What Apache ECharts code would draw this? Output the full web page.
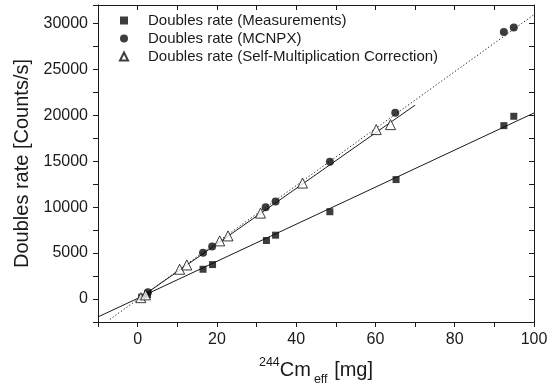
<!DOCTYPE html>
<html>
<head>
<meta charset="utf-8">
<script src="https://cdn.jsdelivr.net/npm/echarts@6/dist/echarts.min.js"></script>
<style>
html,body{margin:0;padding:0;background:#fff;}
#chart{width:555px;height:387px;}
</style>
</head>
<body>
<div id="chart"></div>
<script>
// ---- data ----
var measX = [1.0, 2.5, 16.5, 18.9, 32.5, 34.8, 48.5, 65.2, 92.4, 94.9];
var measY = [200, 480, 3240, 3750, 6370, 6950, 9500, 13000, 18870, 19890];
var mcnpxX = [2.6, 16.5, 18.8, 32.3, 34.8, 48.5, 65.0, 92.4, 94.9];
var mcnpxY = [730, 5050, 5710, 10000, 10620, 14950, 20260, 29050, 29560];
var triX = [0.8, 2.0, 10.6, 12.4, 20.7, 22.8, 31.0, 41.6, 60.2, 63.8];
var triY = [150, 450, 3240, 3710, 6330, 6870, 9350, 12620, 18440, 18980];
// fitted lines (end points)
var measFitX = [-10, 100];
var measFitY = [-1950, 20250];
var mcnpxFitX = [-7, 100];
var mcnpxFitY = [-2220, 30950];
var triFitX = [0, 70];
var triFitY = [-50, 21100];
// axes
var xMin = -10, xMax = 100, xStep = 10, xLabelStep = 20;
var yMin = -2500, yMax = 32000, yStep = 2500, yLabelStep = 5000, yLabelMax = 30000;
var seriesNames = ['Doubles rate (Measurements)', 'Doubles rate (MCNPX)', 'Doubles rate (Self-Multiplication Correction)'];

function pairs(xs, ys){ return xs.map(function(x,i){ return [x, ys[i]]; }); }

var FONT = 'Arial, "Liberation Sans", sans-serif';
var INK = '#1a1a1a';
var MARK = '#0d0d0d';

var chart = echarts.init(document.getElementById('chart'), null, {renderer:'canvas'});
var axisCommon = {
  axisLine:{show:true, onZero:false, lineStyle:{color:INK, width:1}},
  splitLine:{show:false}
};
chart.setOption({
  animation:false,
  backgroundColor:'#fff',
  textStyle:{fontFamily:FONT, color:INK},
  grid:{left:98, right:21, top:5, bottom:65, containLabel:false, outerBoundsMode:'none'},
  legend:{
    orient:'vertical', left:114, top:8, itemGap:3,
    itemWidth:8, itemHeight:8,
    textStyle:{fontFamily:FONT, fontSize:15, color:INK, padding:[0,0,0,15]},
    data:[
      {name:seriesNames[0], icon:'rect'},
      {name:seriesNames[1], icon:'circle'},
      {name:seriesNames[2], icon:'triangle'}
    ]
  },
  xAxis:[
    Object.assign({}, axisCommon, {
      type:'value', position:'bottom', min:xMin, max:xMax, interval:xStep,
      axisTick:{show:true, inside:false, length:5, lineStyle:{color:INK}},
      axisLabel:{fontFamily:FONT, fontSize:16, color:INK, margin:10,
        formatter:function(v){ return (v % xLabelStep === 0) ? String(v) : ''; }},
      name:'{sup|244}{base|Cm}{sub|eff}{base| [mg]}',
      nameLocation:'middle', nameGap:32,
      nameTextStyle:{fontFamily:FONT, color:INK,
        rich:{
          base:{fontFamily:FONT, fontSize:20, color:INK, lineHeight:32, verticalAlign:'middle'},
          sup:{fontFamily:FONT, fontSize:12.5, color:INK, lineHeight:32, verticalAlign:'top', padding:[2,0,0,0]},
          sub:{fontFamily:FONT, fontSize:12.5, color:INK, lineHeight:32, verticalAlign:'bottom', padding:[0,1,0,3]}
        }}
    }),
    Object.assign({}, axisCommon, {
      type:'value', position:'top', min:xMin, max:xMax, interval:xStep,
      axisTick:{show:true, inside:true, length:5, lineStyle:{color:INK}},
      axisLabel:{show:false}
    })
  ],
  yAxis:[
    Object.assign({}, axisCommon, {
      type:'value', position:'left', min:yMin, max:yMax, interval:yStep,
      axisTick:{show:true, inside:false, length:5, lineStyle:{color:INK}},
      axisLabel:{fontFamily:FONT, fontSize:16, color:INK, margin:10,
        formatter:function(v){ return (v % yLabelStep === 0 && v <= yLabelMax) ? String(v) : ''; }},
      name:'Doubles rate [Counts/s]', nameLocation:'middle', nameGap:66,
      nameTextStyle:{fontFamily:FONT, fontSize:20, color:INK}
    }),
    Object.assign({}, axisCommon, {
      type:'value', position:'right', min:yMin, max:yMax, interval:yStep,
      axisTick:{show:true, inside:true, length:5, lineStyle:{color:INK}},
      axisLabel:{show:false}
    })
  ],
  series:[
    {type:'line', name:'fitMeas', data:pairs(measFitX, measFitY), showSymbol:false, silent:true,
      lineStyle:{color:INK, width:1, type:'solid'}, z:1},
    {type:'line', name:'fitMcnpx', data:pairs(mcnpxFitX, mcnpxFitY), showSymbol:false, silent:true,
      lineStyle:{color:INK, width:1, type:[1.2,2.2]}, z:1},
    {type:'line', name:'fitTri', data:pairs(triFitX, triFitY), showSymbol:false, silent:true,
      lineStyle:{color:INK, width:1, type:'solid'}, z:1},
    {type:'scatter', name:seriesNames[0], data:pairs(measX, measY), symbol:'rect', symbolSize:7,
      itemStyle:{color:MARK}, z:3},
    {type:'scatter', name:seriesNames[1], data:pairs(mcnpxX, mcnpxY), symbol:'circle', symbolSize:8,
      itemStyle:{color:MARK}, z:3},
    {type:'scatter', name:seriesNames[2], data:pairs(triX, triY), symbol:'triangle', symbolSize:10,
      itemStyle:{color:'#fff', borderColor:MARK, borderWidth:1}, z:4}
  ]
});
</script>
</body>
</html>
